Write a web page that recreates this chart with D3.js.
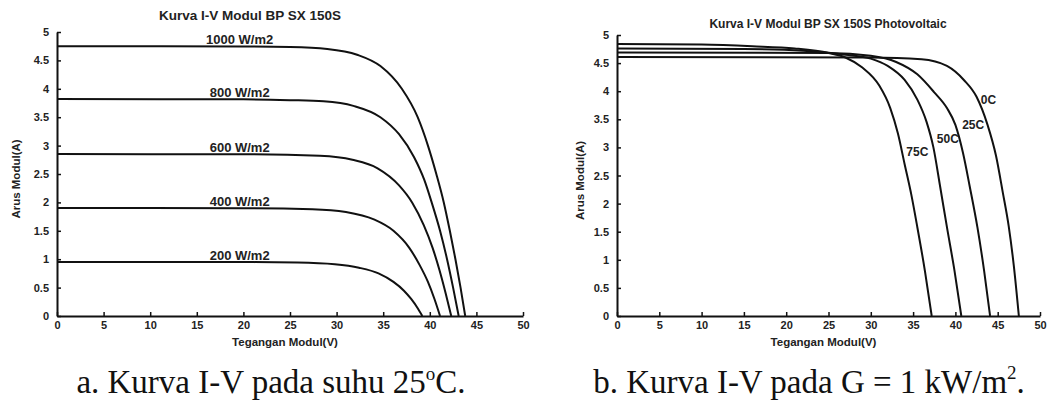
<!DOCTYPE html>
<html>
<head>
<meta charset="utf-8">
<script src="https://cdn.jsdelivr.net/npm/d3@7"></script>
<style>
  body { margin: 0; background: #fff; }
  svg { display: block; }
  .tick text { font-family: "Liberation Sans", Arial, sans-serif; font-weight: bold; font-size: 11px; fill: #222; }
</style>
</head>
<body>
<svg id="canvas" width="1049" height="403"></svg>
<script>
// ticks shared by both panels
var xTicks = [0,5,10,15,20,25,30,35,40,45,50]
var yTicks = [0,0.5,1,1.5,2,2.5,3,3.5,4,4.5,5]

// panel a: I-V curves at 25C, one per irradiance  [V, I]
var irrLabels = ['1000 W/m2','800 W/m2','600 W/m2','400 W/m2','200 W/m2']
var g1000 = [[0,4.75],[20,4.745],[25,4.735],[29,4.70],[32.2,4.60],[34.7,4.40],[37,4.00],[38.7,3.50],[39.8,3.00],[40.7,2.50],[41.5,2.00],[42.15,1.50],[42.75,1.00],[43.3,0.50],[43.8,0]]
var g800  = [[0,3.82],[20,3.815],[25,3.80],[28.6,3.78],[31.8,3.70],[34.7,3.50],[36.7,3.20],[38.3,2.80],[39.4,2.40],[40.2,2.00],[41.1,1.50],[41.85,1.00],[42.5,0.50],[43.1,0]]
var g600  = [[0,2.85],[20,2.848],[28.2,2.82],[31.7,2.75],[34.4,2.60],[36.7,2.30],[38.1,2.00],[39.35,1.60],[40.3,1.20],[41.05,0.80],[41.7,0.40],[42.3,0]]
var g400  = [[0,1.90],[20,1.898],[27.4,1.88],[31,1.83],[34,1.70],[36.1,1.50],[37.8,1.20],[38.9,0.90],[39.8,0.60],[40.5,0.30],[41.1,0]]
var g200  = [[0,0.95],[20,0.949],[25.8,0.94],[29.8,0.91],[32.4,0.85],[34.5,0.75],[36.1,0.60],[37.2,0.45],[38,0.30],[38.65,0.15],[39.2,0]]

// panel b: I-V curves at 1 kW/m2, one per temperature  [V, I]
var tempLabels = ['0C','25C','50C','75C']
var t0  = [[0,4.61],[30,4.60],[36,4.57],[39,4.45],[41,4.20],[42.5,3.90],[43.8,3.40],[44.8,2.85],[45.6,2.20],[46.3,1.60],[46.9,0.90],[47.5,0]]
var t25 = [[0,4.69],[25,4.68],[30,4.63],[33,4.52],[35.5,4.30],[37.5,3.98],[39,3.70],[40,3.40],[40.9,2.90],[41.7,2.30],[42.6,1.58],[43.4,0.80],[44.1,0]]
var t50 = [[0,4.76],[15,4.75],[22,4.72],[27,4.65],[30,4.58],[32,4.45],[34,4.20],[35.5,3.85],[36.6,3.45],[37.4,3.00],[38.2,2.30],[39,1.58],[39.9,0.80],[40.7,0]]
var t75 = [[0,4.84],[10,4.83],[16,4.80],[21,4.76],[25,4.68],[27,4.60],[29,4.42],[31,4.10],[32.3,3.70],[33.2,3.25],[34,2.70],[34.8,2.15],[35.5,1.58],[36.4,0.80],[37.2,0]]
// where the temperature labels sit, in data units [V, I]
var tempLabelAt = [[43.0,3.78],[40.8,3.33],[37.8,3.08],[34.2,2.85]]

var svg = d3.select('#canvas')
var font = '"Liberation Sans", Arial, sans-serif'

window.onload = function(){
    var a = makePanel({left: 57, right: 523, top: 32, bottom: 316,
        title: 'Kurva I-V Modul BP SX 150S', titleX: 250, titleY: 20, titleSize: 13.5,
        ylabX: 20, xlabY: 346})
    drawCurves(a, [g1000, g800, g600, g400, g200])
    irrLabels.forEach(function(t, i){
        var c = [g1000, g800, g600, g400, g200][i]
        svg.append('text')
            .attr('x', a.x(19.6)).attr('y', a.y(c[0][1]) - 2)
            .attr('text-anchor', 'middle')
            .style('font-family', font).style('font-weight', 'bold').style('font-size', '13px')
            .style('fill', '#222')
            .text(t)
    })

    var b = makePanel({left: 617, right: 1040, top: 35, bottom: 316,
        title: 'Kurva I-V Modul BP SX 150S Photovoltaic', titleX: 828, titleY: 28, titleSize: 12,
        ylabX: 584, xlabY: 346})
    drawCurves(b, [t0, t25, t50, t75])
    tempLabels.forEach(function(t, i){
        svg.append('text')
            .attr('x', b.x(tempLabelAt[i][0])).attr('y', b.y(tempLabelAt[i][1]))
            .style('font-family', font).style('font-weight', 'bold').style('font-size', '12px')
            .style('fill', '#222')
            .text(t)
    })

    captions()
}

function makePanel(p){
    var x = d3.scaleLinear().domain([0,50]).range([p.left, p.right])
    var y = d3.scaleLinear().domain([0,5]).range([p.bottom, p.top])

    var gx = svg.append('g').attr('transform', 'translate(0,' + p.bottom + ')')
        .call(d3.axisBottom(x).tickValues(xTicks).tickSizeInner(-4).tickSizeOuter(0).tickPadding(6).tickFormat(d3.format('~g')))
    var gy = svg.append('g').attr('transform', 'translate(' + p.left + ',0)')
        .call(d3.axisLeft(y).tickValues(yTicks).tickSizeInner(-4).tickSizeOuter(0).tickPadding(8).tickFormat(d3.format('~g')))
    ;[gx, gy].forEach(function(g){
        g.select('.domain').attr('stroke', '#111').attr('stroke-width', 2)
        g.selectAll('.tick line').attr('stroke', '#111').attr('stroke-width', 1.5)
    })
    gx.selectAll('.tick text').attr('dy', '0.6em')

    svg.append('text')
        .attr('x', p.titleX).attr('y', p.titleY)
        .attr('text-anchor', 'middle')
        .style('font-family', font).style('font-weight', 'bold').style('font-size', p.titleSize + 'px')
        .style('fill', '#222')
        .text(p.title)

    svg.append('text')
        .attr('x', (p.left + p.right) / 2 - 5).attr('y', p.xlabY)
        .attr('text-anchor', 'middle')
        .style('font-family', font).style('font-weight', 'bold').style('font-size', '11.5px')
        .style('fill', '#222')
        .text('Tegangan Modul(V)')

    svg.append('text')
        .attr('transform', 'translate(' + p.ylabX + ',' + ((p.top + p.bottom) / 2 + 5) + ') rotate(-90)')
        .attr('text-anchor', 'middle')
        .style('font-family', font).style('font-weight', 'bold').style('font-size', '11.5px')
        .style('fill', '#222')
        .text('Arus Modul(A)')

    return {x: x, y: y}
}

function drawCurves(p, curves){
    var line = d3.line()
        .x(function(d){ return p.x(d[0]) })
        .y(function(d){ return p.y(d[1]) })
        .curve(d3.curveMonotoneX)
    svg.append('g').selectAll('path')
        .data(curves)
        .join('path')
        .attr('d', line)
        .attr('fill', 'none')
        .attr('stroke', '#111')
        .attr('stroke-width', 2)
}

function captions(){
    var serif = '"Liberation Serif", "Times New Roman", serif'
    var ca = svg.append('text')
        .attr('x', 271).attr('y', 393)
        .attr('text-anchor', 'middle')
        .style('font-family', serif).style('font-size', '33px').style('fill', '#111')
    ca.append('tspan').text('a. Kurva I-V pada suhu 25')
    ca.append('tspan').attr('dy', -13).style('font-size', '19px').text('o')
    ca.append('tspan').attr('dy', 13).text('C.')

    var cb = svg.append('text')
        .attr('x', 809).attr('y', 393)
        .attr('text-anchor', 'middle')
        .style('font-family', serif).style('font-size', '33px').style('fill', '#111')
    cb.append('tspan').text('b. Kurva I-V pada G = 1 kW/m')
    cb.append('tspan').attr('dy', -14).style('font-size', '19px').text('2')
    cb.append('tspan').attr('dy', 14).text('.')
}
</script>
</body>
</html>
